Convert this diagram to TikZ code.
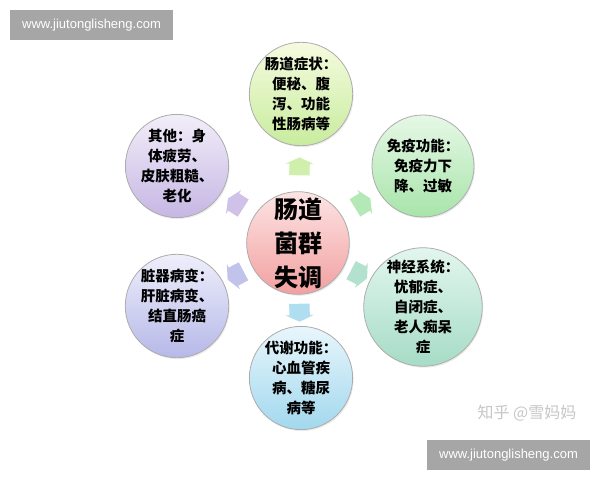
\documentclass[tikz,border=0pt]{standalone}
\usepackage{fontspec}
\setsansfont{Liberation Sans}
\newfontfamily\cjk{Noto Sans CJK SC}
\usetikzlibrary{shapes.arrows,shadows}

\definecolor{pinkA}{HTML}{FDE4E4}\definecolor{pinkB}{HTML}{F2A0A0}
\definecolor{limeA}{HTML}{F5FBDF}\definecolor{limeB}{HTML}{C8EC9E}
\definecolor{greenA}{HTML}{E6F8E6}\definecolor{greenB}{HTML}{A8E4AA}
\definecolor{mintA}{HTML}{E2F6EE}\definecolor{mintB}{HTML}{A6DCC6}
\definecolor{skyA}{HTML}{E8F6FC}\definecolor{skyB}{HTML}{A2D8EE}
\definecolor{lavA}{HTML}{EEEFFB}\definecolor{lavB}{HTML}{B6B8E8}
\definecolor{lilacA}{HTML}{F2EEF9}\definecolor{lilacB}{HTML}{C6B6E4}
\definecolor{markgray}{HTML}{A6A6A6}

\begin{document}
\begin{tikzpicture}[x=1pt,y=1pt,
            main node/.style={circle,draw=gray!65,line width=0.8pt,minimum size=102pt,inner sep=0pt,
                align=center,drop shadow={opacity=0.15,shadow xshift=1pt,shadow yshift=-1.5pt},
                font=\cjk\bfseries\fontsize{14.5}{20}\selectfont},
            arrow node/.style={single arrow,draw=none,inner xsep=5pt,inner ysep=10pt,minimum height=18pt,
                single arrow head extend=4pt,single arrow tip angle=130,
                sloped,allow upside down,pos=0.5},
            site box/.style={fill=markgray,text=white,minimum width=163pt,minimum height=30pt,
                inner sep=0pt,font=\sffamily\fontsize{13}{13}\selectfont}]

        \useasboundingbox (0,0) rectangle (600,480);

        % Define vertices
        \node[main node,top color=pinkA,bottom color=pinkB,minimum size=100pt,
            font=\cjk\bfseries\fontsize{24}{34}\selectfont] (0) at (298,237) {肠道\\菌群\\失调};
        \node[main node,top color=limeA,bottom color=limeB] (1) at (301,386) {肠道症状：\\便秘、腹\\泻、功能\\性肠病等};
        \node[main node,top color=greenA,bottom color=greenB] (2) at (423,314) {免疫功能：\\免疫力下\\降、过敏};
        \node[main node,top color=mintA,bottom color=mintB] (3) at (423,173) {神经系统：\\忧郁症、\\自闭症、\\老人痴呆\\症};
        \node[main node,top color=skyA,bottom color=skyB] (4) at (301,102) {代谢功能：\\心血管疾\\病、糖尿\\病等};
        \node[main node,top color=lavA,bottom color=lavB] (5) at (177,174) {脏器病变：\\肝脏病变、\\结直肠癌\\症};
        \node[main node,top color=lilacA,bottom color=lilacB] (6) at (177,314) {其他：身\\体疲劳、\\皮肤粗糙、\\老化};

        % Draw edges
        \path (0) -- (1) node[arrow node,fill=limeB!85] (a1) {};
        \path (0) -- (2) node[arrow node,fill=greenB!85] (a2) {};
        \path (0) -- (3) node[arrow node,fill=mintB!85] (a3) {};
        \path (0) -- (4) node[arrow node,fill=skyB!85] (a4) {};
        \path (0) -- (5) node[arrow node,fill=lavB!85] (a5) {};
        \path (0) -- (6) node[arrow node,fill=lilacB!85] (a6) {};

        % Watermarks
        \node[site box] (w1) at (91.5,455) {www.jiutonglisheng.com};
        \node[site box] (w2) at (508.5,25) {www.jiutonglisheng.com};
        \node[text=gray!45,font=\cjk\fontsize{16}{16}\selectfont] (zh) at (527,67) {知乎 @雪妈妈};

        \end{tikzpicture}
\end{document}
